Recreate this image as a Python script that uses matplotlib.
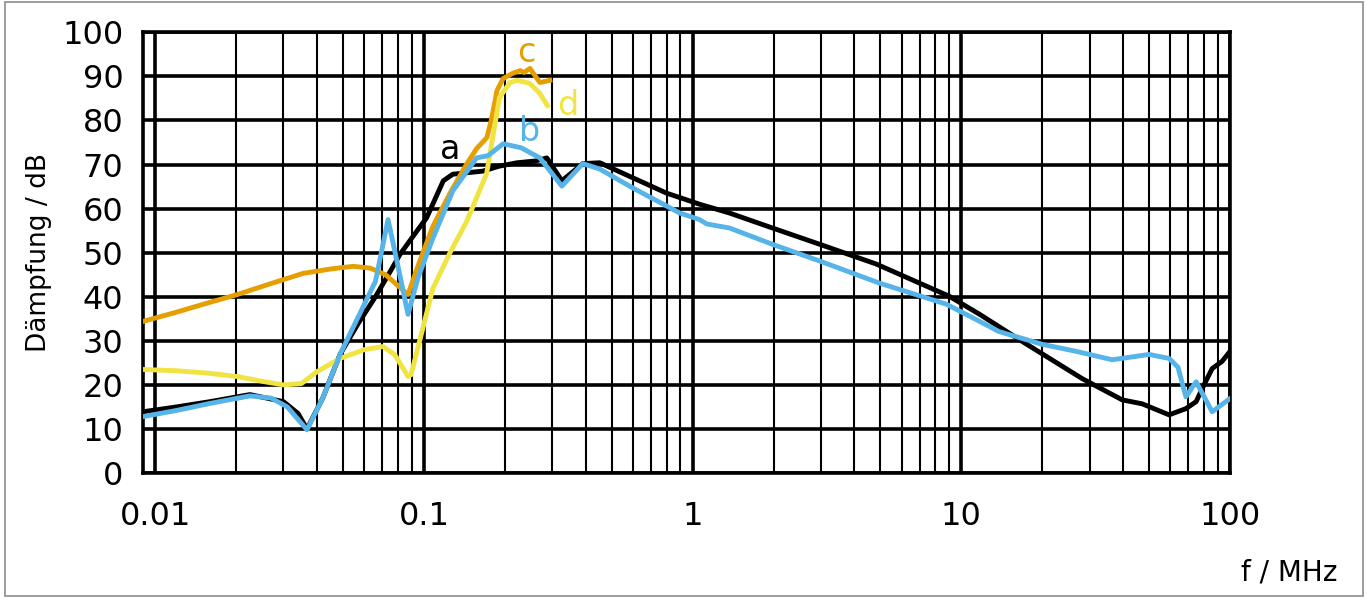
import numpy as np
import matplotlib; matplotlib.use("Agg")
import matplotlib.pyplot as plt
from matplotlib.patches import Rectangle
from matplotlib.ticker import LogLocator, FixedLocator, NullFormatter

# curve a (black)
f_a = [0.009, 0.012, 0.016, 0.0225, 0.03, 0.034, 0.0367, 0.042, 0.0487, 0.057, 0.066,
       0.075, 0.0814, 0.0941, 0.1023, 0.118, 0.128, 0.1657, 0.19, 0.222, 0.26, 0.2866,
       0.326, 0.39, 0.451, 0.598, 0.8, 1.06, 1.37, 1.98, 2.97, 4.83, 6.98, 9.02, 11.7,
       16.9, 28.2, 39.7, 47.1, 59.3, 68.5, 74.8, 80, 85.8, 93.3, 100]
d_a = [13.9, 15.0, 16.2, 17.8, 16.2, 13.5, 10.0, 17.0, 26.9, 34.0, 40.0,
       45.8, 49.6, 54.9, 57.9, 66.3, 67.8, 68.5, 69.6, 70.4, 70.8, 71.5,
       66.3, 70.2, 70.4, 67.0, 63.5, 61.0, 59.0, 55.6, 51.9, 47.4, 43.1, 40.1, 36.0,
       29.8, 21.4, 16.6, 15.7, 13.2, 14.6, 16.2, 20.0, 23.7, 25.3, 27.6]

# curve b (blue)
f_b = [0.009, 0.012, 0.016, 0.0225, 0.027, 0.031, 0.0367, 0.042, 0.0487, 0.057, 0.066,
       0.0735, 0.08, 0.0872, 0.095, 0.108, 0.128, 0.157, 0.173, 0.197, 0.23, 0.27,
       0.326, 0.39, 0.45, 0.598, 0.895, 1.06, 1.13, 1.37, 1.98, 2.97, 4.95, 8.8, 11.7,
       13.8, 20, 26.8, 36.4, 50, 59.3, 64, 68.5, 74.8, 85.8, 100]
d_b = [12.8, 14.2, 15.8, 17.5, 17.0, 15.0, 9.8, 17.0, 26.9, 35.5, 43.5,
       57.5, 47.0, 36.0, 44.3, 53.3, 64.0, 71.5, 72.0, 74.7, 73.8, 71.5,
       65.1, 70.2, 69.0, 64.7, 59.0, 57.5, 56.5, 55.6, 51.9, 48.1, 43.1, 38.3, 34.4,
       32.1, 29.2, 27.6, 25.7, 26.9, 26.0, 24.0, 17.3, 20.7, 13.9, 16.9]

# curve c (orange)
f_c = [0.009, 0.012, 0.0155, 0.0202, 0.027, 0.0355, 0.045, 0.0545, 0.063, 0.072, 0.08,
       0.0872, 0.095, 0.108, 0.125, 0.1445, 0.157, 0.1714, 0.178, 0.187, 0.197, 0.214,
       0.228, 0.236, 0.248, 0.27, 0.294]
d_c = [34.4, 36.5, 38.5, 40.5, 43.0, 45.3, 46.3, 46.9, 46.5, 45.0, 42.5,
       40.5, 47.0, 56.0, 63.5, 70.2, 73.6, 76.1, 80.0, 86.8, 89.5, 90.7,
       91.3, 90.9, 91.8, 88.6, 89.1]

# curve d (yellow)
f_d = [0.009, 0.012, 0.0155, 0.0202, 0.025, 0.03, 0.035, 0.04, 0.0487, 0.06, 0.0704,
       0.078, 0.0872, 0.0895, 0.108, 0.125, 0.1445, 0.171, 0.191, 0.209, 0.222, 0.248,
       0.27, 0.288]
d_d = [23.5, 23.2, 22.7, 21.9, 20.8, 20.0, 20.3, 23.0, 26.0, 28.0, 28.7,
       26.8, 21.9, 22.3, 41.9, 50.0, 57.2, 67.9, 85.2, 88.6, 89.1, 88.4,
       86.1, 83.4]

# curve labels: (text, f, dB)
labels = [("a", 0.125, 73.5), ("b", 0.248, 77.5), ("c", 0.241, 95.5), ("d", 0.343, 83.5)]

C_A, C_B, C_C, C_D = "#000000", "#56B4E9", "#E69F00", "#F0E442"

fig = plt.figure(figsize=(13.67, 5.98), dpi=100)
ax = fig.add_axes([0.1046, 0.209, 0.7952, 0.737])

ax.plot(f_a, d_a, color=C_A, lw=3.5, zorder=3)
ax.plot(f_b, d_b, color=C_B, lw=3.5, zorder=4)
ax.plot(f_c, d_c, color=C_C, lw=3.5, zorder=3)
ax.plot(f_d, d_d, color=C_D, lw=3.5, zorder=3)

for (t, x, y), c in zip(labels, (C_A, C_B, C_C, C_D)):
    ax.text(x, y, t, color=c, fontsize=24, ha="center", va="center", zorder=5)

ax.set_xscale("log")
ax.set_xlim(0.009, 100)
ax.set_ylim(0, 100)
ax.xaxis.set_major_locator(FixedLocator([0.01, 0.1, 1, 10, 100]))
ax.set_xticklabels(["0.01", "0.1", "1", "10", "100"])
ax.xaxis.set_minor_locator(LogLocator(base=10, subs=np.arange(2, 10), numticks=20))
ax.xaxis.set_minor_formatter(NullFormatter())
ax.set_yticks(np.arange(0, 101, 10))

ax.set_axisbelow(True)
ax.grid(which="major", color="k", lw=2.6)
ax.grid(which="minor", axis="x", color="k", lw=1.5)
for s in ax.spines.values():
    s.set_linewidth(2.6)
ax.tick_params(which="both", length=0, labelsize=23)
ax.tick_params(axis="x", pad=20)
ax.tick_params(axis="y", pad=14)

ax.set_ylabel("Dämpfung / dB", fontsize=19)
ax.yaxis.set_label_coords(-0.084, 0.5)
fig.text(0.943, 0.042, "f / MHz", fontsize=20, ha="center", va="center")

fig.patches.append(Rectangle((0.004, 0.003), 0.993, 0.993, transform=fig.transFigure,
                             fill=False, edgecolor="#8c8c8c", lw=1.2))

fig.savefig("out.png", dpi=100)
